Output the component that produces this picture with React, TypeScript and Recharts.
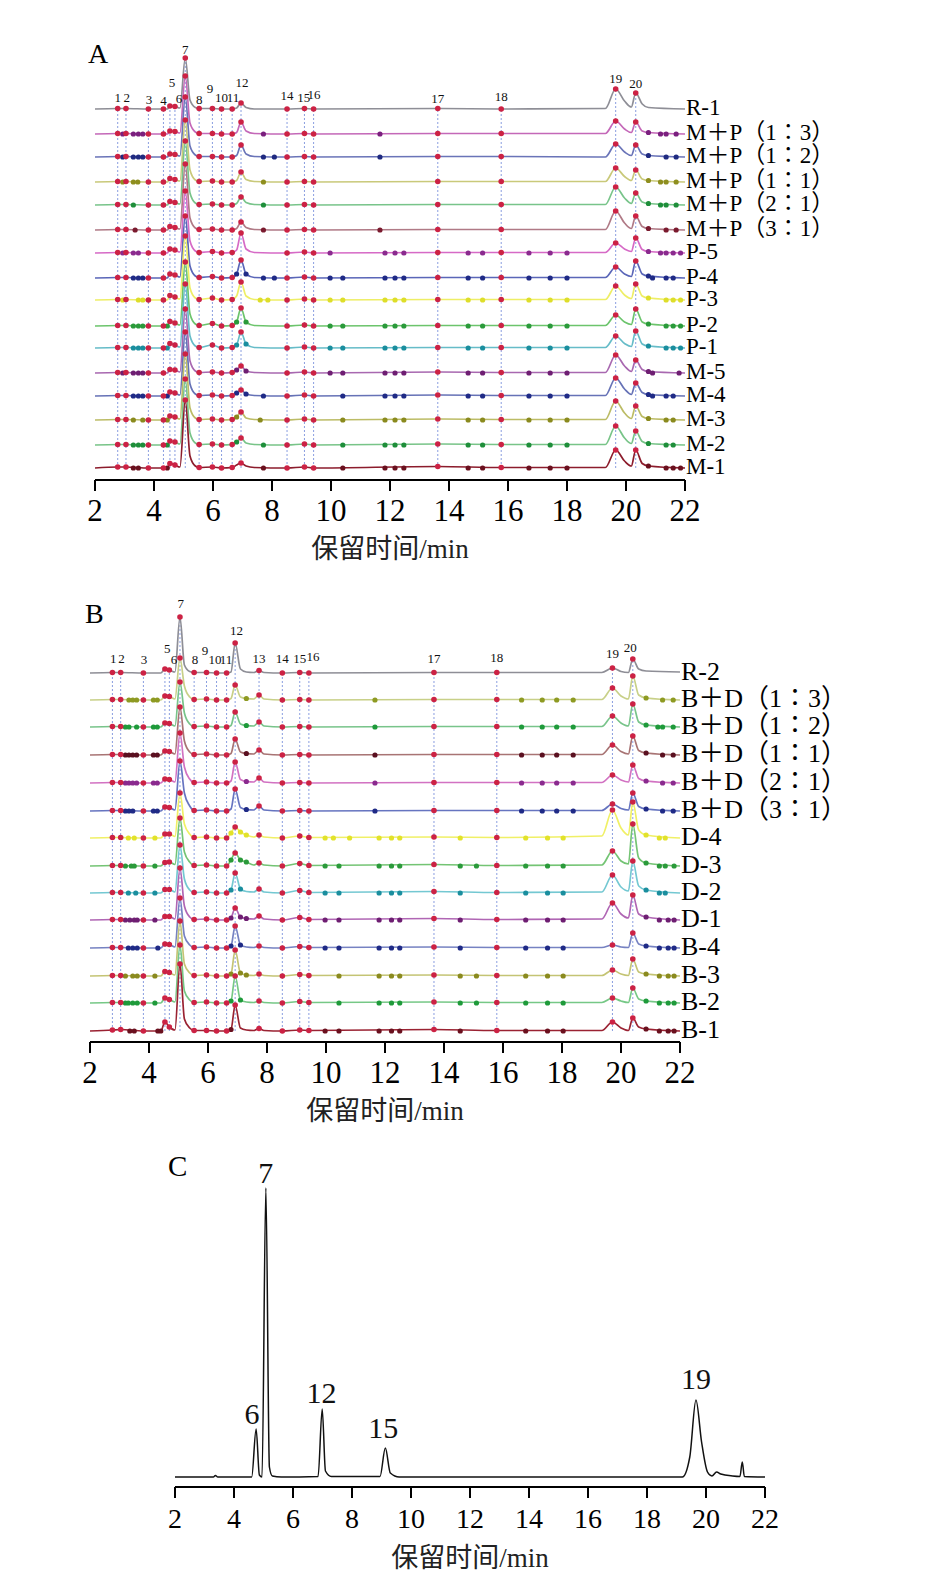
import React from 'react';
import { ComposedChart, Line, Scatter, XAxis, YAxis, ReferenceLine } from 'recharts';

const SERIF = '"Liberation Serif", "Times New Roman", serif';
const MIXED = '"Liberation Serif", "Noto Sans CJK SC", serif';

const xTicks = [2, 4, 6, 8, 10, 12, 14, 16, 18, 20, 22];
const axisTitle = '保留时间/min';
const peakRed = '#cc2244';

// ---------- panel A ----------
const timesA = [2, 2.77, 3.05, 3.81, 4.32, 4.45, 4.54, 4.71, 4.88, 5.06, 5.22, 5.4, 5.53, 5.98, 6.29, 6.65, 6.8, 6.95, 7.12, 7.4, 8.51, 9.1, 9.41, 13.62, 15.77, 19.3, 19.65, 19.95, 20.18, 20.33, 20.55, 20.76, 22];
const namesA = ['R-1', 'M＋P（1∶3）', 'M＋P（1∶2）', 'M＋P（1∶1）', 'M＋P（2∶1）', 'M＋P（3∶1）', 'P-5', 'P-4', 'P-3', 'P-2', 'P-1', 'M-5', 'M-4', 'M-3', 'M-2', 'M-1'];
const basesA = [371, 346, 323, 298, 275, 250, 227, 202, 180, 154, 132, 107, 84, 60, 35, 12];
const heightsA = [
  [0, 0.5, 0.5, 0, 0, 0, 3, 2.5, 1, 51, 9, 1.5, 0.5, 0.5, 0, 0, 1, 6, 1.5, 0, 0, 0.5, 0, 0.5, 0, 0.5, 20, 8, 2, 16, 5, 1.5, 0],
  [0, 0.5, 0.5, 0, 0, 0, 3, 2.5, 1, 58, 11, 2, 0.5, 0.5, 0, 0, 1.5, 12, 3, 0.5, 0, 0.5, 0, 0.5, 0.5, 0.5, 13, 5, 1.5, 12, 3, 1.5, 0],
  [0, 0.5, 0.5, 0, 0, 0, 3, 2.5, 1, 60, 11, 2, 0.5, 0.5, 0, 0, 1.5, 12, 3, 0.5, 0, 0.5, 0, 0.5, 0.5, 0, 13, 5, 1.5, 12, 3, 1.5, 0],
  [0, 0.5, 0.5, 0, 0, 0, 3.5, 2.5, 1, 62, 12, 2, 0.5, 1, 0, 0, 1.5, 10, 2.5, 0.5, 0, 0.5, 0, 0.5, 0.5, 0.5, 14, 5.5, 1.5, 12, 3, 1.5, 0],
  [0, 0.5, 0.5, 0, 0, 0, 3.5, 2.5, 1, 64, 12, 2, 0.5, 1, 0, 0, 1.5, 8, 2.5, 0.5, 0, 0.5, 0, 0.5, 0.5, 0.5, 18, 7, 1.5, 12, 3, 1.5, 0],
  [0, 0.5, 0.5, 0, 0, 0, 3.5, 2.5, 1, 66, 12, 2, 0.5, 1, 0, 0, 1.5, 8, 2.5, 0.5, 0, 0.5, 0, 0.5, 0.5, 0.5, 19, 7, 1.5, 14, 3.5, 1.5, 0],
  [0, 0.5, 0.5, 0, 0, 0, 4, 3, 1, 62, 12, 2, 0.5, 1.5, 0, 0.5, 3, 20, 4, 0.5, 0, 1, 0, 0.5, 0.5, 0.5, 10, 4, 1.5, 15, 3.5, 1.5, 0],
  [0, 0.5, 0.5, 0, 0, 0, 4, 3, 1, 62, 12, 2, 0.5, 1.5, 0, 0.5, 4, 18, 4, 0.5, 0, 1, 0, 0.5, 0.5, 0.5, 11, 4, 1.5, 17, 4, 2, 0],
  [0, 0.5, 0.5, 0, 0, 0, 4.5, 3, 1, 64, 12, 2, 0.5, 2, 0, 0.5, 4, 18, 4, 0.5, 0, 1, 0, 0.5, 0.5, 0.5, 14, 5, 1.5, 16, 4, 2, 0],
  [0, 0.5, 0.5, 0, 0, 0, 4.5, 3, 1, 64, 12, 2, 0.5, 2.5, 0, 0.5, 4, 18, 4, 0.5, 0, 1, 0, 0.5, 0.5, 0.5, 11, 4, 1.5, 17, 4, 2, 0],
  [0, 0.5, 0.5, 0, 0, 0, 4.5, 3, 1, 64, 12, 2, 0.5, 3, 0, 0.5, 3, 16, 4, 0.5, 0, 1, 0, 0.5, 0.5, 0.5, 12, 4.5, 1.5, 17, 4, 2, 0],
  [0, 0.5, 0.5, 0, 0, 0, 3.5, 3, 1, 64, 12, 2, 0.5, 1, 0, 0.5, 3, 7, 2, 0.5, 0, 1, 0, 1, 0.5, 0.5, 18, 7, 1.5, 13, 3.5, 1.5, 0],
  [0, 0.5, 0.5, 0, 0, 0, 4, 3, 1, 64, 12, 2, 0.5, 1, 0, 0.5, 3, 6, 2, 0.5, 0, 1, 0, 1, 0.5, 0.5, 18, 7, 1.5, 13, 3.5, 1.5, 0],
  [0, 0.5, 0.5, 0, 0, 0, 4, 3, 1, 66, 12, 2, 0.5, 1, 0, 0.5, 3, 8, 2, 0.5, 0, 1, 0, 1, 0.5, 0.5, 19, 7, 1.5, 14, 3.5, 1.5, 0],
  [0, 0.5, 0.5, 0, 0, 0, 4, 3, 1, 66, 12, 2, 0.5, 1, 0, 0.5, 3, 7, 2, 0.5, 0, 1, 0, 1, 0.5, 0.5, 19, 7, 1.5, 14, 3.5, 1.5, 0],
  [0, 1, 1, 0, 0, 0, 4.5, 3, 1, 68, 12, 2, 0.5, 1, 0, 0.5, 3, 5, 2, 0.5, 0, 1, 0, 1.5, 0.5, 0.5, 18, 7, 2, 18, 4.5, 2, 0],
];
const lineColorsA = ['#8e8e96', '#c468b8', '#6a74b8', '#c9c97a', '#78c48a', '#b07a86', '#d66ac6', '#5a66b8', '#eeee66', '#6cc46c', '#66bcc8', '#a868b0', '#6672b6', '#bcbc66', '#78c488', '#8c1c2c'];
const dotColorsA = ['#c8203c', '#7a1f7e', '#1f2a80', '#8e8e1e', '#1e8e3a', '#7a1a2e', '#8a2a8e', '#1f2a86', '#dede2a', '#2a9a3a', '#1a8e9e', '#6e1e72', '#1f2a86', '#8a8a1e', '#1e8e3a', '#6a101e'];
const extraDotsA = [
  [],
  [2.94, 3.3, 3.47, 3.62, 7.71, 11.66, 20.76, 21.17, 21.36, 21.7],
  [2.94, 3.3, 3.47, 3.62, 7.71, 8.08, 11.66, 20.76, 21.36, 21.7],
  [2.94, 3.3, 3.45, 7.71, 20.76, 21.17, 21.36, 21.7],
  [3.3, 7.71, 20.76, 21.17, 21.36, 21.7],
  [3.36, 7.71, 11.66, 20.76, 21.36, 21.7],
  [2.94, 3.3, 3.47, 9.97, 11.83, 12.17, 12.47, 14.65, 15.14, 16.71, 17.43, 18.0, 20.76, 21.17, 21.36, 21.6, 21.85],
  [3.3, 3.47, 3.62, 6.8, 7.12, 7.71, 8.08, 9.97, 10.4, 11.83, 12.17, 12.47, 14.65, 15.14, 16.71, 17.43, 18.0, 20.76, 20.9, 21.36, 21.6],
  [2.94, 3.47, 3.62, 7.6, 7.86, 9.97, 10.4, 11.83, 12.17, 12.47, 14.65, 15.14, 16.71, 17.43, 18.0, 20.76, 21.36, 21.6, 21.85],
  [3.3, 3.47, 3.62, 4.45, 6.8, 7.12, 9.97, 10.4, 11.83, 12.17, 12.47, 14.65, 15.14, 16.71, 17.43, 18.0, 20.76, 21.36, 21.6, 21.85],
  [3.3, 3.47, 3.62, 4.45, 6.8, 7.12, 9.97, 10.4, 11.83, 12.17, 12.47, 14.65, 15.14, 16.71, 17.43, 18.0, 20.76, 21.36, 21.6, 21.85],
  [2.94, 3.3, 3.47, 3.62, 6.8, 7.12, 9.97, 10.4, 11.83, 12.17, 12.47, 14.65, 15.14, 16.71, 17.43, 18.0, 20.76, 20.9, 21.8],
  [3.3, 3.47, 3.62, 4.45, 6.8, 7.12, 7.71, 10.4, 11.83, 12.17, 12.47, 14.65, 15.14, 16.71, 17.43, 18.0, 20.76, 20.9, 21.36, 21.6],
  [3.3, 3.62, 4.45, 6.8, 7.6, 10.4, 11.83, 12.17, 12.47, 14.65, 15.14, 16.71, 17.43, 18.0, 20.76, 21.36, 21.6],
  [3.3, 3.47, 3.62, 4.45, 6.8, 7.71, 10.4, 11.83, 12.17, 12.47, 14.65, 15.14, 16.71, 17.43, 18.0, 20.76, 21.36, 21.6],
  [3.3, 3.47, 4.45, 7.71, 10.4, 11.83, 12.17, 12.47, 14.65, 15.14, 16.71, 17.43, 18.0, 20.76, 21.36, 21.6, 21.85],
];
const peakIdxA = [1, 2, 3, 4, 6, 7, 9, 12, 13, 14, 15, 17, 20, 21, 22, 23, 24, 26, 29];
const labelTextA = ['1', '2', '3', '4', '5', '6', '7', '8', '9', '10', '11', '12', '14', '15', '16', '17', '18', '19', '20'];
const labelTimesA = [2.77, 3.08, 3.83, 4.32, 4.61, 4.85, 5.06, 5.53, 5.9, 6.29, 6.68, 6.98, 8.51, 9.08, 9.42, 13.62, 15.77, 19.65, 20.33];
const labelLevelsA = [383, 383, 381, 380, 398, 382, 431, 381, 392, 383, 383, 398, 385, 383, 386, 382, 384, 402, 397];

// ---------- panel B ----------
const timesB = [2, 2.76, 3.04, 3.81, 4.4, 4.54, 4.69, 4.88, 5.05, 5.2, 5.38, 5.53, 5.95, 6.29, 6.63, 6.78, 6.92, 7.1, 7.3, 7.55, 7.73, 7.9, 8.52, 9.11, 9.42, 13.66, 15.79, 19.35, 19.71, 20.0, 20.25, 20.4, 20.6, 20.85, 22];
const namesB = ['R-2', 'B＋D（1∶3）', 'B＋D（1∶2）', 'B＋D（1∶1）', 'B＋D（2∶1）', 'B＋D（3∶1）', 'D-4', 'D-3', 'D-2', 'D-1', 'B-4', 'B-3', 'B-2', 'B-1'];
const basesB = [369, 342, 315, 287, 259, 231, 204, 176, 149, 122, 94, 66, 39, 11];
const heightsB = [
  [0, 0.5, 0.5, 0, 0, 4, 3, 1, 56, 8, 1.5, 0.5, 0.5, 0, 0, 1, 30, 4, 1, 0.5, 2.5, 0.5, 0, 0.5, 0, 0.5, 0.5, 0.5, 5, 1.5, 0.5, 14, 4, 2, 1],
  [0, 0.5, 0.5, 0, 0, 4, 3.5, 1, 42, 14, 3, 0.5, 1, 0, 0, 1.5, 15, 3, 1.5, 1, 5, 1, 0, 0.5, 0, 0.5, 0.5, 0.5, 12, 4, 1, 24, 5, 2, 0],
  [0, 0.5, 0.5, 0, 0, 4, 3.5, 1, 45, 14, 3, 0.5, 1, 0, 0, 1.5, 15, 3, 1.5, 1, 5, 1, 0, 0.5, 0, 0.5, 0.5, 0.5, 11, 4, 1, 23, 5, 2, 0],
  [0, 0.5, 0.5, 0, 0, 4, 3.5, 1, 48, 14, 3, 0.5, 1, 0, 0, 1.5, 16, 3, 1.5, 1, 5, 1, 0, 0.5, 0, 0.5, 0.5, 0.5, 10, 3.5, 1, 19, 4.5, 2, 0],
  [0, 0.5, 0.5, 0, 0, 4, 3.5, 1, 50, 16, 4, 0.5, 1, 0, 0, 2, 21, 3.5, 1.5, 1, 5, 1, 0, 0.5, 0, 0.5, 0.5, 0.5, 8, 3, 1, 18, 4.5, 2, 0],
  [0, 0.5, 0.5, 0, 0, 4, 3.5, 1, 50, 18, 5, 0.5, 1, 0, 0, 2, 22, 3.5, 1.5, 1, 5, 1, 0, 0.5, 0, 0.5, 0.5, 0.5, 7, 2.5, 1, 18, 4.5, 2, 0],
  [0, 0.5, 0.5, 0, 0, 4, 4, 1.5, 45, 14, 4, 0.5, 1, 0, 0, 5, 11, 6, 3, 1, 3, 1, 0, 2, 0.5, 1, 0.5, 2, 28, 10, 3, 36, 8, 3, 0],
  [0, 0.5, 0.5, 0, 0, 3.5, 4, 1.5, 48, 14, 4, 0.5, 1, 0, 0, 6, 13, 6, 4, 1, 3, 1, 0, 2.5, 0.5, 1.5, 0.5, 1, 15, 5, 2, 42, 8, 3, 0],
  [0, 0.5, 0.5, 0, 0, 3.5, 3.5, 1, 48, 14, 3, 0.5, 1, 0, 0, 3, 20, 4, 1.5, 1, 4, 1, 0, 2.5, 0.5, 1.5, 0.5, 1, 18, 6, 2, 32, 7, 3, 0],
  [0, 0.5, 0.5, 0, 0, 3.5, 3.5, 1, 52, 14, 3, 0.5, 1, 0, 0, 2, 12, 3, 1.5, 1, 4, 1, 0, 2.5, 0.5, 1.5, 0.5, 1, 17, 6, 2, 25, 6, 3, 0],
  [0, 0.5, 0.5, 0, 0, 4, 3.5, 1, 50, 12, 3, 0.5, 1, 0, 0, 2, 22, 3, 1, 0.5, 2, 0.5, 0, 1.5, 0.5, 1, 0.5, 0.5, 3, 1, 0.5, 15, 4, 2, 0],
  [0, 0.5, 0.5, 0, 0, 4.5, 3.5, 1, 55, 12, 3, 0.5, 1, 0, 0, 2, 26, 3, 1, 0.5, 2, 0.5, 0, 1.5, 0.5, 1, 0.5, 0.5, 6, 2, 0.5, 17, 4, 2, 0],
  [0, 0.5, 0.5, 0, 0, 5, 3.5, 1, 58, 12, 3, 0.5, 1, 0, 0, 2, 27, 3, 1, 0.5, 2, 0.5, 0, 1.5, 0.5, 1, 0.5, 0.5, 5, 2, 0.5, 15, 4, 2, 0],
  [0, 1, 1.5, 0, 0, 9, 4, 1, 67, 12, 3, 0.5, 0.5, 0, 0, 1.5, 26, 3, 1, 0.5, 2.5, 0.5, 0, 1, 0.5, 1.5, 0.5, 0.5, 9, 3, 0.5, 13, 4, 2, 0],
];
const lineColorsB = ['#8e8e96', '#c8d088', '#78c48a', '#a87474', '#d272c2', '#6674c0', '#f0f066', '#74c474', '#74c8d2', '#b066b4', '#7682c2', '#c4c474', '#76c886', '#9a2232'];
const dotColorsB = ['#c8203c', '#8e9a22', '#1e9a3a', '#5a1020', '#8a2a8e', '#1f2a86', '#e2e22a', '#2a9a3a', '#1a8e9e', '#6e1e72', '#1f2a86', '#8a8a1e', '#1e9a3a', '#6a101e'];
const extraDotsB = [
  [],
  [3.32, 3.45, 3.58, 4.15, 4.28, 7.3, 11.66, 16.63, 17.33, 17.82, 18.38, 20.85, 21.41, 21.77],
  [3.2, 3.32, 3.58, 4.15, 4.28, 7.3, 11.66, 16.63, 17.33, 17.82, 18.38, 20.85, 21.25, 21.41, 21.77],
  [3.2, 3.32, 3.45, 3.58, 4.15, 4.28, 7.3, 11.66, 16.63, 17.33, 17.82, 18.38, 20.85, 21.41, 21.77],
  [3.2, 3.32, 3.45, 3.58, 4.15, 4.28, 7.3, 11.66, 16.63, 17.33, 17.82, 18.38, 20.85, 21.41, 21.77],
  [3.2, 3.32, 3.45, 4.15, 4.28, 7.3, 11.66, 16.63, 17.33, 17.82, 18.38, 20.85, 21.41, 21.77],
  [3.3, 3.5, 4.2, 6.78, 7.1, 7.3, 9.97, 10.25, 10.8, 11.8, 12.22, 12.5, 14.55, 16.77, 17.51, 18.04, 20.85, 21.3, 21.5],
  [3.2, 3.4, 3.5, 4.2, 6.78, 7.1, 7.3, 9.97, 10.44, 11.8, 12.22, 12.5, 14.55, 15.1, 16.77, 17.51, 18.04, 20.85, 21.3, 21.5, 21.8],
  [3.3, 3.55, 4.2, 6.78, 7.1, 9.97, 10.44, 11.8, 12.22, 12.5, 14.55, 16.77, 17.51, 18.04, 20.85, 21.3, 21.5],
  [3.2, 3.35, 3.5, 3.6, 4.2, 6.78, 7.1, 7.3, 9.97, 10.44, 11.8, 12.22, 12.5, 14.55, 16.77, 17.51, 18.04, 20.85, 21.3, 21.6, 21.8],
  [3.3, 3.45, 3.6, 4.3, 6.78, 7.1, 9.97, 10.44, 11.8, 12.22, 12.5, 14.55, 16.77, 17.51, 18.04, 20.85, 21.3, 21.6, 21.8],
  [3.2, 3.45, 3.6, 4.2, 6.78, 7.1, 7.3, 10.44, 11.8, 12.22, 12.5, 14.55, 15.1, 16.77, 17.51, 18.04, 20.85, 21.3, 21.6, 21.8],
  [3.2, 3.3, 3.45, 3.6, 4.2, 6.78, 7.1, 10.44, 11.8, 12.22, 12.5, 14.55, 15.1, 16.77, 17.51, 18.04, 20.85, 21.3, 21.6, 21.8],
  [3.35, 3.5, 4.3, 4.4, 6.78, 9.97, 10.44, 11.8, 12.22, 12.5, 14.55, 16.77, 17.51, 18.04, 20.85, 21.3, 21.6, 21.8],
];
const peakIdxB = [1, 2, 3, 5, 6, 8, 11, 12, 13, 14, 16, 20, 22, 23, 24, 25, 26, 28, 31];
const labelTextB = ['1', '2', '3', '5', '6', '7', '8', '9', '10', '11', '12', '13', '14', '15', '16', '17', '18', '19', '20'];
const labelTimesB = [2.79, 3.07, 3.83, 4.62, 4.85, 5.08, 5.56, 5.9, 6.24, 6.61, 6.97, 7.73, 8.52, 9.11, 9.56, 13.66, 15.79, 19.71, 20.31];
const labelLevelsB = [384, 384, 383, 394, 383, 439, 383, 392, 383, 383, 412, 384, 384, 384, 386, 384, 385, 389, 395];

// ---------- panel C ----------
const timesC = [2, 3.3, 3.37, 3.45, 4.6, 4.75, 4.86, 4.95, 5.08, 5.2, 5.3, 5.6, 6.85, 6.99, 7.1, 7.3, 8.95, 9.13, 9.3, 9.6, 19.2, 19.45, 19.66, 19.85, 20.05, 20.2, 20.36, 20.5, 20.9, 21.15, 21.23, 21.3, 22];
const heightsC = [0, 0, 1.5, 0, 0, 48, 2, 0, 289, 10, 1, 0, 0.5, 68, 6, 0.5, 0.5, 29, 4, 0, 0, 20, 77, 35, 5, 1, 5, 3, 1, 0.5, 15, 0.5, 0];
const labelTextC = ['6', '7', '12', '15', '19'];
const labelTimesC = [4.61, 5.08, 6.97, 9.06, 19.66];
const labelLevelsC = [74, 315, 95, 60, 109];

const dotShape = (fill: string, r: number) => (props: any) =>
  props.cx == null ? <g /> : <circle cx={props.cx} cy={props.cy} r={r} fill={fill} />;

const textShape = (size: number) => (props: any) =>
  props.cx == null ? <g /> : (
    <text x={props.cx} y={props.cy} textAnchor="middle" dominantBaseline="central" fontSize={size} fontFamily={SERIF} fill="#111">
      {props.payload.label}
    </text>
  );

// trace names written just right of the plot, centred a little above each baseline
const nameShape = (size: number) => (props: any) =>
  props.cx == null ? <g /> : (
    <text x={props.cx + 1} y={props.cy - 2} textAnchor="start" dominantBaseline="central" fontSize={size} fontFamily={MIXED} fill="#000">
      {props.payload.label}
    </text>
  );

function xAxisFor(tickFont: number, tickMargin: number, titleOffset: number) {
  return (
    <XAxis
      type="number"
      dataKey="x"
      domain={[2, 22]}
      ticks={xTicks}
      interval={0}
      height={80}
      tickSize={11}
      tickMargin={tickMargin}
      axisLine={{ stroke: '#000', strokeWidth: 2 }}
      tickLine={{ stroke: '#000', strokeWidth: 2 }}
      tick={{ fontSize: tickFont, fill: '#000', fontFamily: SERIF }}
      label={{ value: axisTitle, position: 'insideBottom', offset: titleOffset, fontSize: 27, fill: '#222', fontFamily: MIXED }}
    />
  );
}

type StackProps = {
  times: number[]; names: string[]; bases: number[]; heights: number[][];
  lineColors: string[]; dotColors: string[]; extraDots: number[][];
  peakIdx: number[]; labelText: string[]; labelTimes: number[]; labelLevels: number[];
  top: number; chartHeight: number; yMax: number; nameSize: number;
  margin: { top: number; right: number; bottom: number; left: number };
};

function StackPanel(p: StackProps) {
  const traces = p.heights.map((row, i) => p.times.map((t, j) => ({ x: t, y: p.bases[i] + row[j] })));
  const redDots = p.heights.flatMap((row, i) => p.peakIdx.map((j) => ({ x: p.times[j], y: p.bases[i] + row[j] })));
  const extras = p.extraDots.map((list, i) =>
    list.map((t) => {
      const j = p.times.indexOf(t);
      return { x: t, y: p.bases[i] + (j >= 0 ? p.heights[i][j] : 0) };
    })
  );
  const labels = p.labelText.map((s, i) => ({ x: p.labelTimes[i], y: p.labelLevels[i], label: s }));
  const nameRows = p.names.map((s, i) => ({ x: 22, y: p.bases[i], label: s }));
  const last = p.bases.length - 1;

  return (
    <div style={{ position: 'absolute', left: 0, top: p.top }}>
      <ComposedChart width={935} height={p.chartHeight} margin={p.margin}>
        {xAxisFor(31, 8, 2)}
        <YAxis hide type="number" dataKey="y" domain={[0, p.yMax]} />
        {p.peakIdx.map((j) => (
          <ReferenceLine
            key={'g' + j}
            segment={[{ x: p.times[j], y: p.bases[last] }, { x: p.times[j], y: p.bases[0] + p.heights[0][j] }]}
            stroke="#8a9ee0"
            strokeWidth={1}
            strokeDasharray="2 2"
          />
        ))}
        {traces.map((d, i) => (
          <Line
            key={'l' + i}
            data={d}
            dataKey="y"
            type="monotone"
            stroke={p.lineColors[i]}
            strokeWidth={1.7}
            dot={false}
            activeDot={false}
            isAnimationActive={false}
          />
        ))}
        {extras.map((d, i) => (
          <Scatter key={'e' + i} data={d} shape={dotShape(p.dotColors[i], 2.6)} isAnimationActive={false} />
        ))}
        <Scatter data={redDots} shape={dotShape(peakRed, 2.8)} isAnimationActive={false} />
        <Scatter data={labels} shape={textShape(13)} isAnimationActive={false} />
        <Scatter data={nameRows} shape={nameShape(p.nameSize)} isAnimationActive={false} />
      </ComposedChart>
    </div>
  );
}

function SinglePanel() {
  const baseline = 10;
  const trace = timesC.map((t, i) => ({ x: t, y: baseline + heightsC[i] }));
  const labels = labelTextC.map((s, i) => ({ x: labelTimesC[i], y: labelLevelsC[i], label: s }));
  return (
    <div style={{ position: 'absolute', left: 0, top: 1120 }}>
      <ComposedChart width={935} height={468} margin={{ top: 37, right: 170, bottom: 21, left: 175 }}>
        {xAxisFor(28, 10, 0)}
        <YAxis hide type="number" dataKey="y" domain={[0, 330]} />
        <Line data={trace} dataKey="y" type="monotone" stroke="#111" strokeWidth={1.5} dot={false} activeDot={false} isAnimationActive={false} />
        <Scatter data={labels} shape={textShape(30)} isAnimationActive={false} />
      </ComposedChart>
    </div>
  );
}

const letterStyle: React.CSSProperties = { position: 'absolute', fontFamily: SERIF, fontSize: 28, lineHeight: '28px', color: '#000' };

export default function App() {
  return (
    <div style={{ position: 'absolute', left: 0, top: 0, width: 935, height: 1588, background: '#fff', overflow: 'hidden' }}>
      <StackPanel
        times={timesA} names={namesA} bases={basesA} heights={heightsA}
        lineColors={lineColorsA} dotColors={dotColorsA} extraDots={extraDotsA}
        peakIdx={peakIdxA} labelText={labelTextA} labelTimes={labelTimesA} labelLevels={labelLevelsA}
        top={0} chartHeight={570} yMax={440} nameSize={23} margin={{ top: 40, right: 250, bottom: 10, left: 95 }}
      />
      <StackPanel
        times={timesB} names={namesB} bases={basesB} heights={heightsB}
        lineColors={lineColorsB} dotColors={dotColorsB} extraDots={extraDotsB}
        peakIdx={peakIdxB} labelText={labelTextB} labelTimes={labelTimesB} labelLevels={labelLevelsB}
        top={560} chartHeight={570} yMax={450} nameSize={26} margin={{ top: 32, right: 255, bottom: 8, left: 90 }}
      />
      <SinglePanel />
      <div style={{ ...letterStyle, left: 88, top: 40 }}>A</div>
      <div style={{ ...letterStyle, left: 85, top: 600 }}>B</div>
      <div style={{ ...letterStyle, left: 168, top: 1152, fontSize: 29 }}>C</div>
    </div>
  );
}
